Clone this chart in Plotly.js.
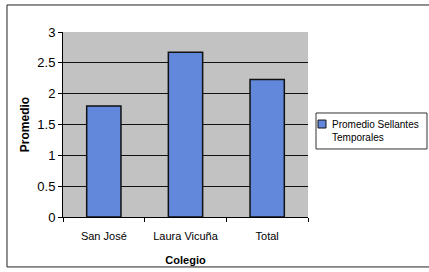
<!DOCTYPE html>
<html><head><meta charset="utf-8">
<script src="https://cdn.plot.ly/plotly-3.0.1.min.js"></script>
<style>html,body{margin:0;padding:0;background:#fff}#c{width:429px;height:272px}</style>
</head><body><div id="c"></div>
<script>
const categories = ["San José", "Laura Vicuña", "Total"];
const promedio = [1.8, 2.67, 2.23];
const seriesName = "Promedio Sellantes<br>Temporales";
const yTicks = [0, 0.5, 1, 1.5, 2, 2.5, 3];
const yTickLabels = ["0", "0.5", "1", "1.5", "2", "2.5", "3"];

const fam = "'Liberation Sans', Arial, sans-serif";
const barColor = "#6288dc";
Plotly.newPlot("c", [{
  type: "bar", x: categories, y: promedio, name: seriesName,
  width: 0.42,
  marker: {color: barColor, line: {color: "#111", width: 1.5}},
  showlegend: false
}], {
  width: 429, height: 272,
  margin: {l: 63, r: 121, t: 32, b: 55, autoexpand: false},
  paper_bgcolor: "#fff", plot_bgcolor: "#c2c2c2",
  font: {family: fam, size: 11, color: "#000"},
  showlegend: false,
  xaxis: {
    title: {text: "<b>Colegio</b>", font: {size: 11}, standoff: 15},
    showline: true, linecolor: "#000", linewidth: 1,
    ticks: "outside", tickson: "boundaries", ticklen: 4, tickcolor: "#000",
    tickangle: 0, tickfont: {size: 11}, ticklabelstandoff: 9
  },
  yaxis: {
    title: {text: "<b>Promedio</b>", font: {size: 12}, standoff: 5},
    range: [0, 3], tickvals: yTicks, ticktext: yTickLabels,
    showline: true, linecolor: "#000", linewidth: 1,
    ticks: "outside", ticklen: 4, tickcolor: "#000",
    gridcolor: "#111", gridwidth: 1, zeroline: false,
    tickfont: {size: 13}
  },
  annotations: [
    {xref: "paper", yref: "paper", x: 1.0898, y: 0.4649, xanchor: "left", yanchor: "middle",
     align: "left", showarrow: false, text: seriesName, font: {size: 10}}
  ],
  shapes: [
    {type: "rect", xref: "paper", yref: "paper", x0: -0.2286, x1: 1.5, y0: -0.27, y1: 1.146,
     line: {color: "#222", width: 1}, fillcolor: "rgba(0,0,0,0)", layer: "below"},
    {type: "rect", xref: "paper", yref: "paper", x0: 1.0327, x1: 1.4857, y0: 0.3676, y1: 0.5622,
     line: {color: "#333", width: 1}, fillcolor: "#fff"},
    {type: "rect", xref: "paper", yref: "paper", x0: 1.0408, x1: 1.0735, y0: 0.481, y1: 0.524,
     line: {color: "#111", width: 1}, fillcolor: barColor}
  ]
}, {staticPlot: true});
</script></body></html>
